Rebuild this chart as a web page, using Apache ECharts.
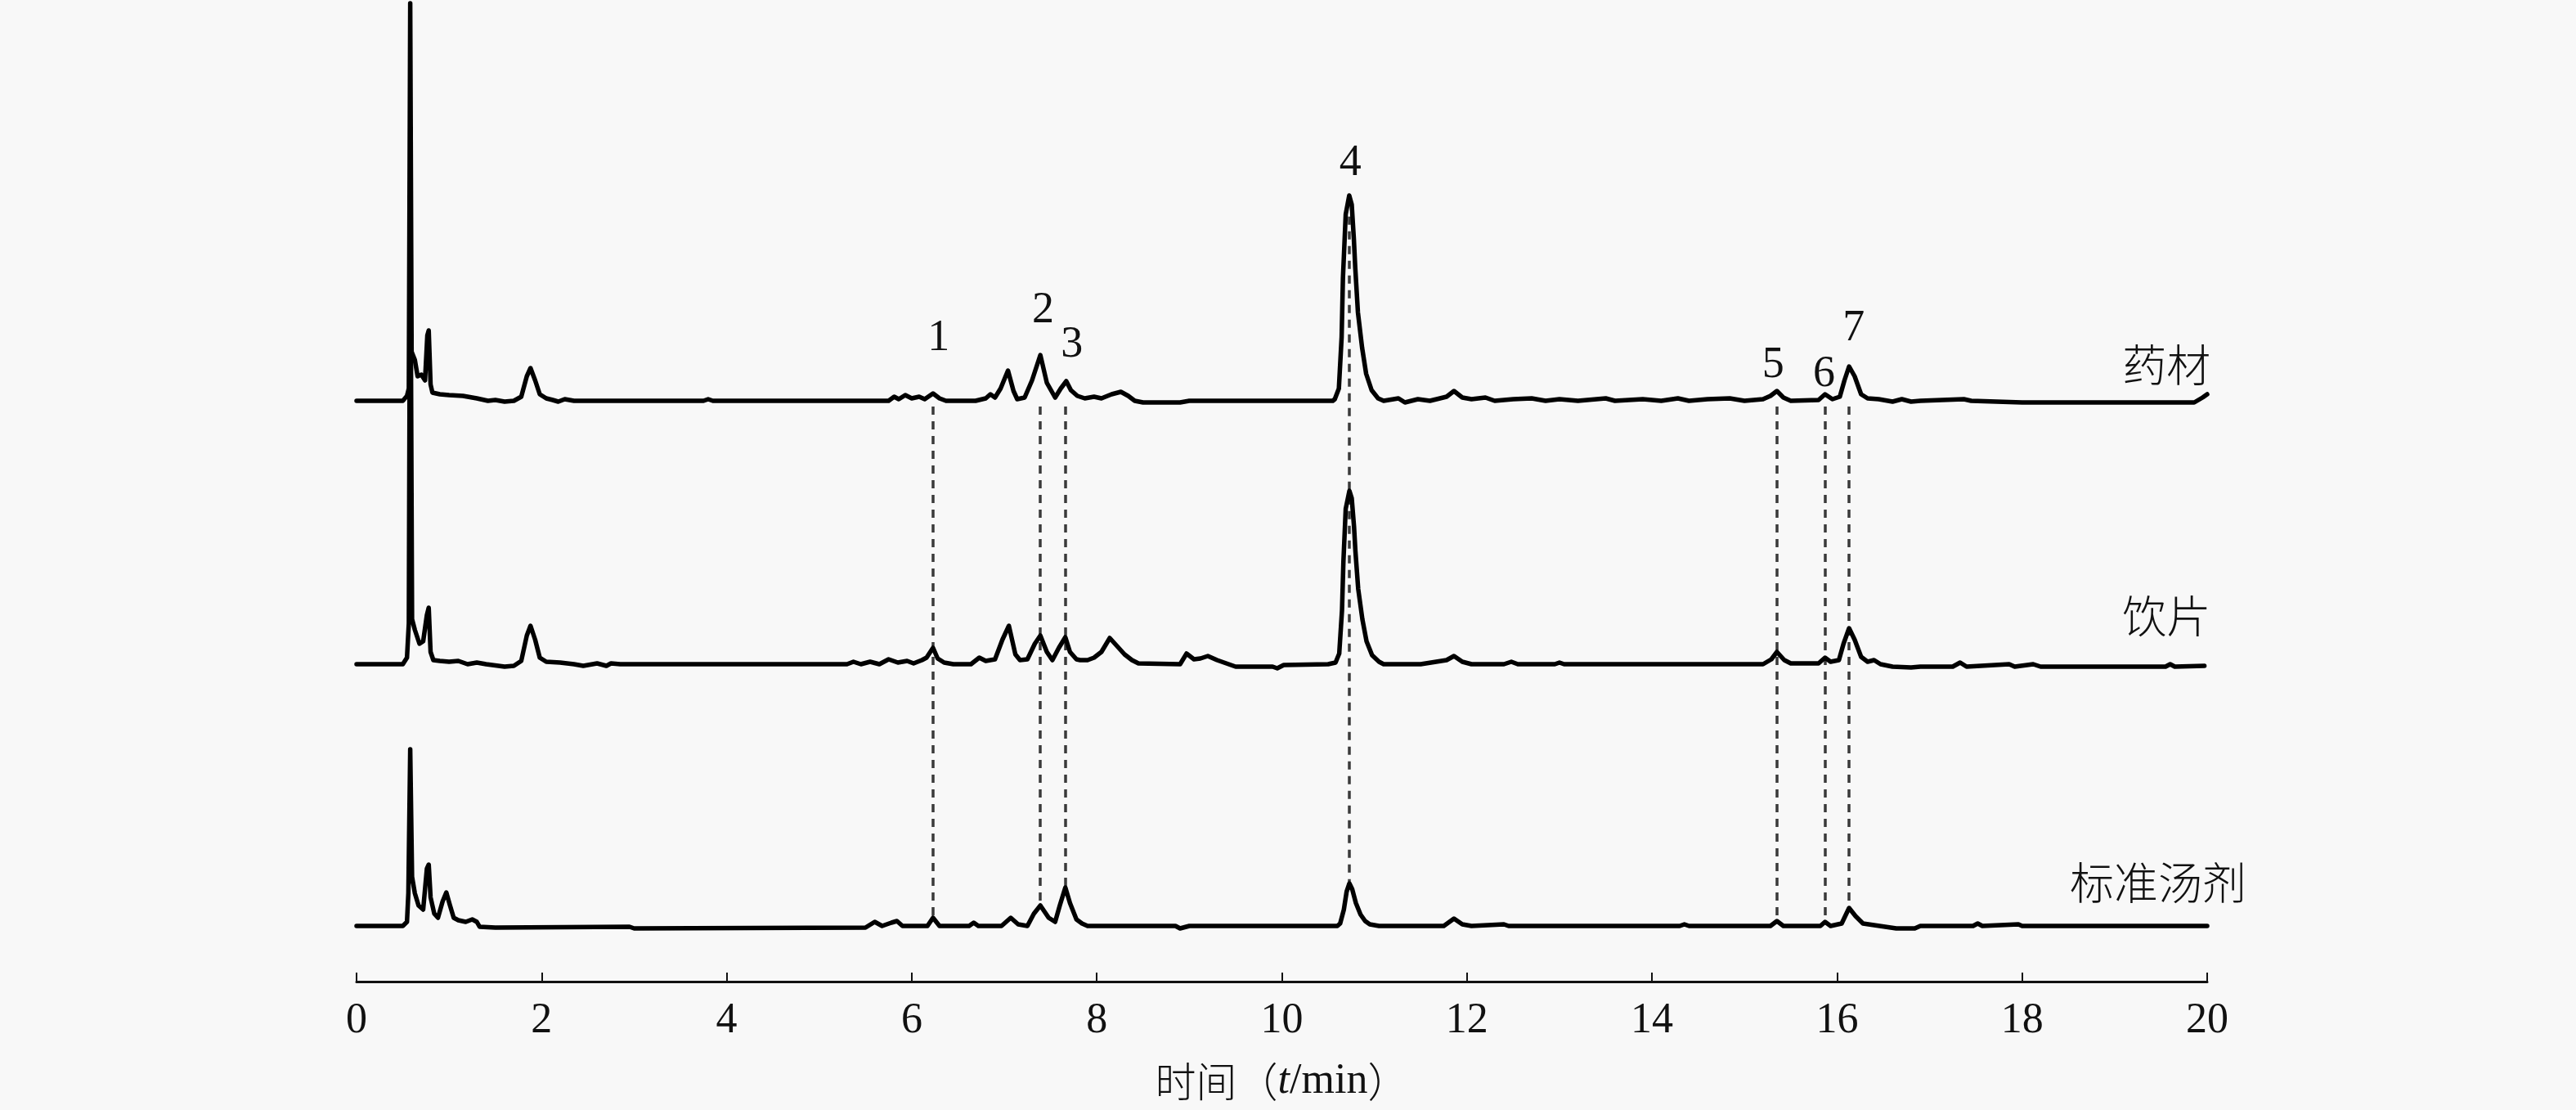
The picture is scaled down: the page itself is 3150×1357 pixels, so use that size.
<!DOCTYPE html>
<html><head><meta charset="utf-8">
<script src="https://cdn.jsdelivr.net/npm/echarts@6/dist/echarts.min.js"></script>
<style>html,body{margin:0;padding:0;background:#f8f8f8}#c{width:3150px;height:1357px}</style>
</head><body><div id="c"></div>
<script>
// ---------------- data ----------------
const sampleNames = ['药材', '饮片', '标准汤剂'];
const xTicks = [0, 2, 4, 6, 8, 10, 12, 14, 16, 18, 20];
const axisTitle = '时间（t/min）';

// detector signal (arbitrary units) vs retention time (min)
const traceYaocai = [[0,0],[0.5,0],[0.545,6],[0.565,15],[0.58,486],[0.595,60],[0.63,50],[0.66,30],[0.7,32],[0.74,25],[0.765,80],[0.78,86],[0.8,20],[0.82,10],[0.9,8],[1.0,7],[1.15,6],[1.3,3],[1.42,0],[1.5,1],[1.6,-1],[1.7,0],[1.78,5],[1.84,30],[1.88,40],[1.93,25],[1.98,8],[2.05,3],[2.12,1],[2.18,-1],[2.25,2],[2.35,0],[3.75,0],[3.8,2],[3.85,0],[5.75,0],[5.81,5],[5.86,2],[5.93,7],[6.0,3],[6.08,5],[6.14,2],[6.23,9],[6.3,3],[6.37,0],[6.69,0],[6.8,3],[6.85,8],[6.9,4],[6.96,15],[7.04,37],[7.1,12],[7.14,2],[7.22,4],[7.3,25],[7.39,56],[7.46,22],[7.55,4],[7.61,15],[7.67,24],[7.72,13],[7.79,6],[7.87,3],[7.97,5],[8.05,3],[8.16,8],[8.26,11],[8.34,6],[8.41,0],[8.5,-2],[8.9,-2],[9.0,0],[10.55,0],[10.572,2],[10.616,15],[10.646,78],[10.66,150],[10.69,228],[10.728,251],[10.755,240],[10.778,198],[10.793,163],[10.822,108],[10.867,65],[10.911,33],[10.97,13],[11.04,3],[11.1,0],[11.26,3],[11.33,-2],[11.47,2],[11.6,0],[11.78,5],[11.86,12],[11.95,4],[12.05,2],[12.2,4],[12.3,0],[12.5,2],[12.7,3],[12.85,0],[13.0,2],[13.2,0],[13.5,3],[13.6,0],[13.9,2],[14.1,0],[14.28,3],[14.4,0],[14.6,2],[14.84,3],[15.0,0],[15.2,2],[15.28,6],[15.35,12],[15.42,4],[15.5,0],[15.8,1],[15.87,8],[15.95,2],[16.03,5],[16.08,25],[16.13,42],[16.19,30],[16.26,8],[16.33,3],[16.45,2],[16.6,-1],[16.7,2],[16.8,-1],[16.9,0],[17.37,2],[17.45,0],[18.0,-2],[19.86,-2],[19.95,4],[20.0,8]];

const traceYinpian = [[0,0],[0.5,0],[0.545,8],[0.565,50],[0.58,590],[0.6,55],[0.63,42],[0.68,25],[0.72,28],[0.76,60],[0.78,69],[0.8,15],[0.83,5],[0.9,4],[1.0,3],[1.1,4],[1.2,0],[1.3,2],[1.4,0],[1.6,-3],[1.7,-2],[1.78,4],[1.84,35],[1.88,47],[1.93,30],[1.98,8],[2.05,3],[2.2,2],[2.35,0],[2.45,-2],[2.55,0],[2.6,1],[2.7,-2],[2.75,1],[2.85,0],[5.3,0],[5.37,3],[5.45,0],[5.55,3],[5.65,0],[5.75,6],[5.85,2],[5.95,4],[6.02,1],[6.11,5],[6.16,8],[6.23,20],[6.28,7],[6.35,2],[6.45,0],[6.64,0],[6.73,8],[6.8,4],[6.9,6],[6.98,30],[7.05,47],[7.12,12],[7.17,5],[7.25,6],[7.33,25],[7.39,35],[7.46,15],[7.52,5],[7.59,20],[7.66,33],[7.71,15],[7.78,6],[7.82,5],[7.9,5],[7.97,8],[8.05,15],[8.14,32],[8.22,22],[8.3,12],[8.38,5],[8.45,1],[8.9,0],[8.97,13],[9.05,6],[9.12,7],[9.2,10],[9.3,5],[9.4,1],[9.5,-3],[9.9,-3],[9.95,-5],[10.02,-1],[10.5,0],[10.58,2],[10.62,13],[10.65,66],[10.665,125],[10.69,190],[10.73,212],[10.755,203],[10.78,168],[10.795,138],[10.825,92],[10.87,55],[10.915,28],[10.975,11],[11.05,3],[11.1,0],[11.5,0],[11.78,5],[11.86,10],[11.95,3],[12.05,0],[12.4,0],[12.48,3],[12.55,0],[12.95,0],[13.0,2],[13.05,0],[15.2,0],[15.29,6],[15.35,15],[15.43,5],[15.5,1],[15.8,1],[15.87,8],[15.93,3],[16.02,5],[16.07,25],[16.13,44],[16.19,30],[16.26,9],[16.33,3],[16.4,5],[16.47,0],[16.6,-3],[16.8,-4],[16.9,-3],[17.25,-3],[17.33,2],[17.4,-3],[17.86,0],[17.92,-3],[18.12,0],[18.2,-3],[19.55,-3],[19.6,0],[19.65,-3],[19.97,-2]];

const traceTangji = [[0,0],[0.5,0],[0.545,5],[0.56,40],[0.58,216],[0.6,60],[0.63,40],[0.67,25],[0.72,20],[0.76,70],[0.78,75],[0.8,35],[0.84,15],[0.88,10],[0.93,30],[0.97,41],[1.01,25],[1.05,10],[1.1,7],[1.18,5],[1.25,8],[1.3,5],[1.33,-1],[1.5,-2],[2.95,-1],[3.0,-3],[5.5,-2],[5.6,5],[5.68,0],[5.78,4],[5.84,6],[5.9,0],[6.17,0],[6.23,10],[6.3,0],[6.62,0],[6.67,4],[6.72,0],[6.97,0],[7.07,10],[7.15,2],[7.25,0],[7.32,15],[7.39,25],[7.48,10],[7.55,5],[7.6,25],[7.66,47],[7.71,28],[7.78,8],[7.84,3],[7.9,0],[8.85,0],[8.9,-3],[9.0,0],[10.6,0],[10.63,3],[10.67,20],[10.7,42],[10.73,52],[10.76,45],[10.8,28],[10.85,14],[10.9,6],[10.95,2],[11.05,0],[11.75,0],[11.86,9],[11.95,2],[12.05,0],[12.4,2],[12.45,0],[14.3,0],[14.35,2],[14.4,0],[15.28,0],[15.35,6],[15.42,0],[15.82,0],[15.87,5],[15.93,0],[16.05,3],[16.13,22],[16.2,12],[16.28,3],[16.4,1],[16.64,-3],[16.84,-3],[16.9,0],[17.47,0],[17.52,3],[17.57,0],[17.96,2],[18.0,0],[20.0,0]];

const peakNumbers = ['1', '2', '3', '4', '5', '6', '7'];
const peakTimes = [6.23, 7.39, 7.66, 10.73, 15.35, 15.87, 16.13];

// ---------------- layout (not data) ----------------
const traceOffsets = [710, 388, 68];           // vertical stacking of the three chromatograms
const peakLabelPos = [[6.29,786],[7.42,820],[7.73,778],[10.74,1000],[15.31,753],[15.86,742],[16.18,798]];
const nameLabelPos = [[19.56,754],[19.56,447],[19.47,121]];
const serif = 'Liberation Serif';
const cjk = 'Noto Sans CJK SC';
const ink = '#000';

const traces = [traceYaocai, traceYinpian, traceTangji];

function valueAt(trace, t) {
  for (let i = 1; i < trace.length; i++) {
    if (trace[i][0] >= t) {
      const [t0, v0] = trace[i - 1], [t1, v1] = trace[i];
      return v0 + (v1 - v0) * (t - t0) / (t1 - t0);
    }
  }
  return trace[trace.length - 1][1];
}

const series = traces.map((tr, k) => ({
  type: 'line',
  name: sampleNames[k],
  data: tr.map(p => [p[0], p[1] + traceOffsets[k]]),
  showSymbol: false,
  symbol: 'none',
  sampling: null,
  lineStyle: { color: ink, width: 5.5, join: 'round', cap: 'round' },
  z: 5,
  markPoint: {
    symbol: 'circle', symbolSize: 1, silent: true,
    itemStyle: { color: 'rgba(0,0,0,0)' },
    label: { show: true, position: 'inside', color: '#111', fontFamily: cjk, fontWeight: 300, fontSize: 54, formatter: p => p.name },
    data: [{ name: sampleNames[k], coord: nameLabelPos[k] }]
  }
}));

// dashed guide lines + peak numbers
const guides = peakTimes.map((t, i) => {
  const topStart = (i === 3) ? traceOffsets[0] + valueAt(traces[0], t) - 25 : traceOffsets[0] - 7;
  const bottomEnd = traceOffsets[2] + valueAt(traces[2], t);
  return [{ coord: [t, topStart] }, { coord: [t, bottomEnd] }];
});

series.push({
  type: 'line',
  data: [],
  z: 2,
  markLine: {
    silent: true, symbol: ['none', 'none'], animation: false,
    label: { show: false },
    lineStyle: { color: '#3a3a3a', width: 3.5, type: [10, 8] },
    data: guides
  },
  markPoint: {
    symbol: 'circle', symbolSize: 1, silent: true,
    itemStyle: { color: 'rgba(0,0,0,0)' },
    label: { show: true, position: 'inside', color: '#111', fontFamily: serif, fontSize: 54, formatter: p => p.name },
    data: peakNumbers.map((n, i) => ({ name: n, coord: peakLabelPos[i] }))
  }
});

const chart = echarts.init(document.getElementById('c'), null, { renderer: 'canvas' });
chart.setOption({
  animation: false,
  backgroundColor: '#f8f8f8',
  grid: { left: 436, right: 451, top: 0, bottom: 157, containLabel: false },
  xAxis: {
    type: 'value', min: xTicks[0], max: xTicks[xTicks.length - 1], interval: xTicks[1] - xTicks[0],
    axisLine: { lineStyle: { color: '#111', width: 3 } },
    axisTick: { inside: true, length: 11, lineStyle: { color: '#111', width: 2 } },
    axisLabel: { color: '#111', fontFamily: serif, fontSize: 52, margin: 22 },
    splitLine: { show: false },
    name: '{c|时间（}{i|t}{r|/min}{c|）}',
    nameLocation: 'middle', nameGap: 96,
    nameTextStyle: {
      rich: {
        c: { fontFamily: cjk, fontWeight: 300, fontSize: 50, color: '#111' },
        i: { fontFamily: serif, fontStyle: 'italic', fontSize: 52, color: '#111' },
        r: { fontFamily: serif, fontSize: 52, color: '#111' }
      }
    }
  },
  yAxis: { type: 'value', min: 0, max: 1200, show: false },
  series
});
</script>
</body></html>
